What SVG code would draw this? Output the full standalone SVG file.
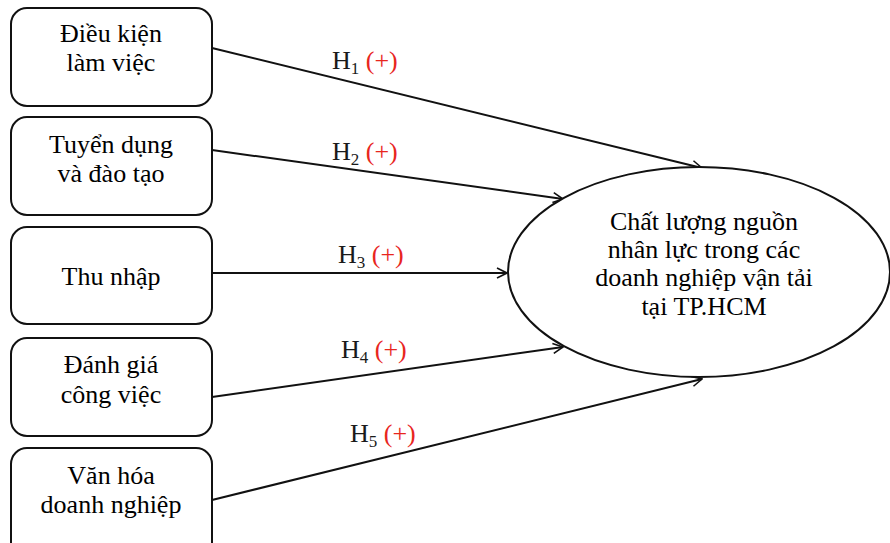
<svg xmlns="http://www.w3.org/2000/svg" width="890" height="543" viewBox="0 0 890 543" font-family="'Liberation Serif', 'Times New Roman', serif" font-size="26">
<style>
.box{fill:#fff;stroke:#111;stroke-width:2}
.c{text-anchor:middle}
.edge{stroke:#111;stroke-width:2;fill:none;marker-end:url(#arr)}
.sub{font-size:17px}
.red{fill:#e8261e}
</style>
<defs>
<marker id="arr" viewBox="0 0 12 12" refX="11" refY="6" markerWidth="12" markerHeight="12" markerUnits="userSpaceOnUse" orient="auto">
<path d="M1,1 L11,6 L1,11" fill="none" stroke="#111" stroke-width="1.6"/>
</marker>
</defs>
<rect width="890" height="543" fill="#fff"/>
<g id="connectors" fill="#1a1a1a">
<line class="edge" x1="212" y1="48" x2="702" y2="168"/>
<line class="edge" x1="212" y1="150" x2="563" y2="199"/>
<line class="edge" x1="212" y1="273" x2="507" y2="273"/>
<line class="edge" x1="212" y1="397" x2="563" y2="347"/>
<line class="edge" x1="212" y1="500" x2="702" y2="379"/>
<text x="332" y="69">H<tspan class="sub" dy="5">1</tspan><tspan dy="-5"> </tspan><tspan class="red">(+)</tspan></text>
<text x="332" y="160">H<tspan class="sub" dy="5">2</tspan><tspan dy="-5"> </tspan><tspan class="red">(+)</tspan></text>
<text x="338" y="263">H<tspan class="sub" dy="5">3</tspan><tspan dy="-5"> </tspan><tspan class="red">(+)</tspan></text>
<text x="341" y="358">H<tspan class="sub" dy="5">4</tspan><tspan dy="-5"> </tspan><tspan class="red">(+)</tspan></text>
<text x="350" y="442">H<tspan class="sub" dy="5">5</tspan><tspan dy="-5"> </tspan><tspan class="red">(+)</tspan></text>
</g>
<g id="n1">
<rect class="box" x="11" y="8" width="201" height="98" rx="16"/>
<text class="c" x="111" y="42">Điều kiện</text>
<text class="c" x="111" y="71">làm việc</text>
</g>
<g id="n2">
<rect class="box" x="11" y="117" width="201" height="98" rx="16"/>
<text class="c" x="111" y="153">Tuyển dụng</text>
<text class="c" x="111" y="182">và đào tạo</text>
</g>
<g id="n3">
<rect class="box" x="11" y="227" width="201" height="97" rx="16"/>
<text class="c" x="111" y="285">Thu nhập</text>
</g>
<g id="n4">
<rect class="box" x="11" y="338" width="201" height="98" rx="16"/>
<text class="c" x="111" y="373">Đánh giá</text>
<text class="c" x="111" y="403">công việc</text>
</g>
<g id="n5">
<rect class="box" x="11" y="448" width="201" height="110" rx="16"/>
<text class="c" x="111" y="484">Văn hóa</text>
<text class="c" x="111" y="513">doanh nghiệp</text>
</g>
<g id="target">
<ellipse class="box" cx="699" cy="272" rx="191" ry="105"/>
<text class="c" x="704" y="230">Chất lượng nguồn</text>
<text class="c" x="704" y="258">nhân lực trong các</text>
<text class="c" x="704" y="286">doanh nghiệp vận tải</text>
<text class="c" x="704" y="315">tại TP.HCM</text>
</g>
</svg>
